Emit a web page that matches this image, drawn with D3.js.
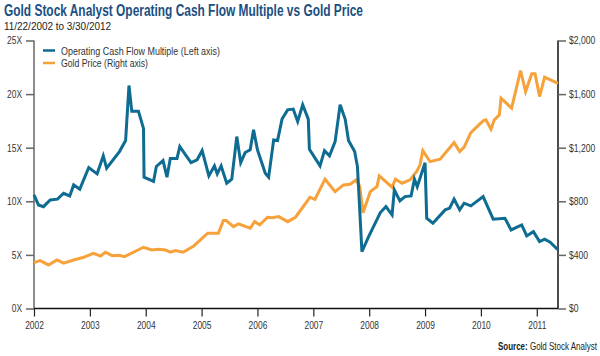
<!DOCTYPE html>
<html><head><meta charset="utf-8">
<script src="https://cdn.jsdelivr.net/npm/d3@7"></script>
<style>
body{margin:0;background:#fff;}
svg{display:block;}
text{font-family:"Liberation Sans",Arial,sans-serif;}
</style></head>
<body><svg id="c" width="600" height="356"></svg>
<script>
const title = "Gold Stock Analyst Operating Cash Flow Multiple vs Gold Price";
const subtitle = "11/22/2002 to 3/30/2012";
const seriesNames = ["Operating Cash Flow Multiple (Left axis)", "Gold Price (Right axis)"];
const yearTicks = [2002, 2003, 2004, 2005, 2006, 2007, 2008, 2009, 2010, 2011];
const leftTicks = [0, 5, 10, 15, 20, 25];
const rightTicks = [0, 400, 800, 1200, 1600, 2000];

// Operating cash flow multiple: position on the chart's year axis, value (X)
const multipleX = [2002.00,2002.08,2002.17,2002.29,2002.42,2002.53,2002.64,2002.71,2002.82,2002.98,
2003.13,2003.24,2003.30,2003.53,2003.64,2003.70,2003.75,2003.87,2003.96,2003.97,
2004.14,2004.19,2004.31,2004.38,2004.44,2004.56,2004.61,2004.81,2004.92,2005.01,
2005.13,2005.23,2005.28,2005.35,2005.45,2005.54,2005.63,2005.70,2005.78,2005.87,
2005.93,2006.00,2006.14,2006.20,2006.29,2006.36,2006.44,2006.54,2006.64,2006.72,
2006.81,2006.91,2006.93,2007.12,2007.20,2007.29,2007.39,2007.48,2007.57,2007.63,
2007.74,2007.79,2007.87,2007.99,2008.20,2008.30,2008.41,2008.45,2008.55,2008.64,
2008.75,2008.81,2008.86,2009.00,2009.03,2009.14,2009.36,2009.44,2009.52,2009.62,
2009.70,2009.82,2010.04,2010.22,2010.43,2010.54,2010.73,2010.82,2010.94,2011.05,
2011.14,2011.24,2011.36,2011.38];
const multipleY = [10.6,9.66,9.5,10.13,10.2,10.75,10.5,11.53,11.13,13.15,
12.56,14.24,13.09,14.64,15.67,20.8,18.4,18.4,16.8,12.25,
11.85,13.25,13.8,12.25,14.0,14.0,15.1,13.6,13.87,14.73,
12.37,13.3,12.56,13.3,11.69,12.06,16.04,13.6,14.55,14.8,
16.67,14.8,12.62,12.25,15.73,15.67,17.67,18.53,18.6,17.44,
19.0,17.67,14.86,13.3,14.73,14.24,15.57,19.0,17.67,15.67,
14.64,13.24,5.3,6.7,8.95,9.5,8.73,11.06,10.04,10.44,
10.5,12.06,11.37,13.6,8.42,7.95,9.2,9.36,10.2,9.2,
9.82,9.57,10.44,8.33,8.42,7.33,7.8,6.77,7.17,6.24,
6.46,6.18,5.56,5.5];

// Gold price: position on the chart's year axis, value ($)
const goldX = [2002.00,2002.11,2002.26,2002.41,2002.53,2002.71,2002.89,2003.06,2003.19,2003.28,
2003.40,2003.52,2003.62,2003.96,2004.11,2004.23,2004.35,2004.44,2004.53,2004.67,
2004.86,2005.11,2005.30,2005.39,2005.44,2005.57,2005.66,2005.87,2005.95,2006.04,
2006.18,2006.26,2006.38,2006.54,2006.68,2006.94,2007.03,2007.21,2007.39,2007.54,
2007.66,2007.77,2007.83,2007.89,2008.02,2008.14,2008.18,2008.41,2008.47,2008.59,
2008.73,2008.85,2008.91,2008.96,2009.09,2009.27,2009.52,2009.62,2009.70,2009.82,
2010.04,2010.09,2010.18,2010.24,2010.33,2010.36,2010.55,2010.71,2010.80,2010.91,
2010.97,2011.05,2011.14,2011.35,2011.38];
const goldY = [342,357,325,362,338,362,382,412,392,420,
394,397,387,457,437,442,437,420,432,420,
467,562,562,656,656,611,631,599,648,624,
681,678,686,648,681,830,815,965,872,922,
927,960,910,715,872,910,990,905,965,935,
960,1022,1072,1178,1096,1114,1238,1171,1204,1313,
1400,1408,1338,1408,1445,1570,1495,1776,1619,1751,
1751,1582,1727,1686,1680];

const colors = ["#0e6b91", "#f7a13a"];

const svg = d3.select("#c");
const L = 34, R = 558, T = 40.5, B = 308.5;
const x = d3.scaleLinear().domain([2002, 2011.38]).range([L, R]);
const yL = d3.scaleLinear().domain([0, 25]).range([B, T]);
const yR = d3.scaleLinear().domain([0, 2000]).range([B, T]);

// condense text horizontally (narrow face look)
function squeeze(sel, factor, target) {
  sel.each(function () {
    const w = this.getComputedTextLength();
    const len = target != null ? target : w * factor;
    d3.select(this).attr("textLength", len).attr("lengthAdjust", "spacingAndGlyphs");
  });
}

// Title
svg.append("text").attr("x", 4).attr("y", 16)
  .attr("font-size", 16).attr("font-weight", "bold").attr("fill", "#1c4f82")
  .text(title).call(squeeze, null, 359);
svg.append("text").attr("x", 4).attr("y", 30)
  .attr("font-size", 11.5).attr("fill", "#222").text(subtitle).call(squeeze, null, 107);

// Left axis
const gl = svg.append("g").attr("transform", `translate(${L},0)`)
  .call(d3.axisLeft(yL).tickValues(leftTicks).tickSize(8).tickPadding(4).tickFormat(d => d + "X"));
gl.select(".domain").attr("stroke", "#666").attr("stroke-width", 1.5).attr("d", `M0,${B}V${T}`);
gl.selectAll(".tick line").attr("stroke", "#666").attr("stroke-width", 1.5);
gl.selectAll("text").attr("font-size", 10.5).attr("fill", "#333").attr("font-family", '"Liberation Sans",sans-serif').call(squeeze, 0.8);

// Right axis
const gr = svg.append("g").attr("transform", `translate(${R},0)`)
  .call(d3.axisRight(yR).tickValues(rightTicks).tickSize(8).tickPadding(3).tickFormat(d => "$" + d3.format(",")(d)));
gr.select(".domain").attr("stroke", "#111").attr("stroke-width", 1.5).attr("d", `M0,${B}V${T}`);
gr.selectAll(".tick line").attr("stroke", "#666").attr("stroke-width", 1.5);
gr.selectAll("text").attr("font-size", 10.5).attr("fill", "#333").attr("font-family", '"Liberation Sans",sans-serif').call(squeeze, 0.82);

// Bottom axis
const gb = svg.append("g").attr("transform", `translate(0,${B})`)
  .call(d3.axisBottom(x).tickValues(yearTicks).tickSize(8).tickPadding(5).tickFormat(d3.format("d")));
gb.select(".domain").attr("stroke", "#111").attr("stroke-width", 1.5).attr("d", `M${L},0H${R}`);
gb.selectAll(".tick line").attr("stroke", "#222").attr("stroke-width", 1.2);
gb.selectAll("text").attr("font-size", 10.5).attr("fill", "#333").attr("font-family", '"Liberation Sans",sans-serif').call(squeeze, 0.8);

// Lines
const lineL = d3.line().x((d, i) => x(multipleX[i])).y(d => yL(d));
const lineR = d3.line().x((d, i) => x(goldX[i])).y(d => yR(d));
svg.append("path").attr("d", lineR(goldY)).attr("fill", "none")
  .attr("stroke", colors[1]).attr("stroke-width", 3).attr("stroke-linejoin", "miter");
svg.append("path").attr("d", lineL(multipleY)).attr("fill", "none")
  .attr("stroke", colors[0]).attr("stroke-width", 3).attr("stroke-linejoin", "miter");

// Legend
const lg = svg.append("g");
const legendW = [159, 87];
seriesNames.forEach((n, i) => {
  const yy = 50.5 + i * 12.5;
  lg.append("line").attr("x1", 43).attr("x2", 55).attr("y1", yy).attr("y2", yy)
    .attr("stroke", colors[i]).attr("stroke-width", 2.5);
  lg.append("text").attr("x", 61).attr("y", yy + 4).attr("font-size", 11.5).attr("fill", "#333")
    .text(n).call(squeeze, null, legendW[i]);
});

// Source
const src = svg.append("g").attr("transform", "translate(597,350) scale(0.8,1)")
  .append("text").attr("x", 0).attr("y", 0).attr("text-anchor", "end")
  .attr("font-size", 10).attr("fill", "#222");
src.append("tspan").attr("font-weight", "bold").text("Source:");
src.append("tspan").text(" Gold Stock Analyst");
</script></body></html>
